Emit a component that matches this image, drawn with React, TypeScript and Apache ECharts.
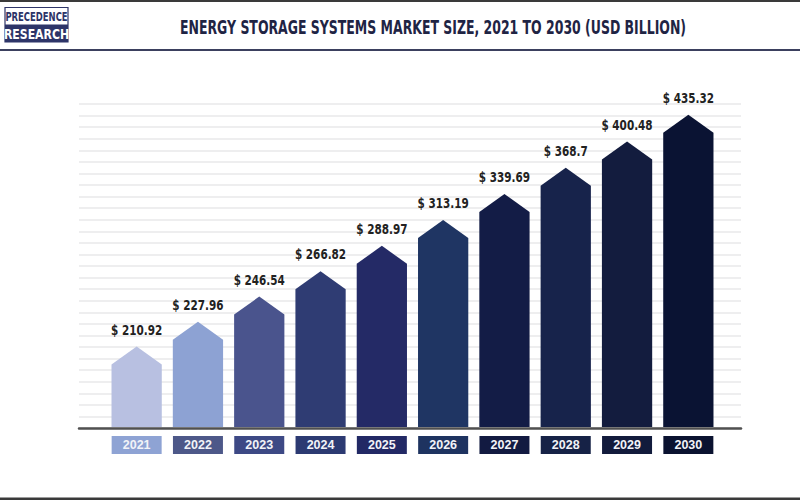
import React, { useEffect, useRef } from "react";
import * as echarts from "echarts";

const years = ["2021", "2022", "2023", "2024", "2025", "2026", "2027", "2028", "2029", "2030"];
const values = [210.92, 227.96, 246.54, 266.82, 288.97, 313.19, 339.69, 368.7, 400.48, 435.32];
const barColors = ["#b8c0e1", "#8da2d3", "#4a548d", "#2f3c73", "#242a66", "#1f3563", "#131c46", "#17234b", "#131c3e", "#0a1333"];
const yearBoxColors = ["#8ea3d4", "#4d5889", "#3d4985", "#2c3a72", "#222965", "#1e3360", "#121a41", "#162246", "#121b3c", "#0a1230"];
const gridLevels = 28;
const titleText = "ENERGY STORAGE SYSTEMS MARKET SIZE, 2021 TO 2030 (USD BILLION)";

const DJ = "'DejaVu Sans', sans-serif";
const LIB = "'Liberation Sans', Arial, sans-serif";

export default function App() {
  const ref = useRef<HTMLDivElement>(null);
  useEffect(() => {
    if (!ref.current) return;
    const chart = echarts.init(ref.current, null, { renderer: "svg" });
    const rich: Record<string, any> = {};
    yearBoxColors.forEach((c, i) => {
      rich["c" + i] = {
        backgroundColor: c,
        color: "#f2f3f8",
        width: 50,
        height: 18,
        lineHeight: 18,
        align: "center",
        fontSize: 12.5,
        fontWeight: "bold",
        fontFamily: LIB,
      };
    });
    chart.setOption({
      animation: false,
      backgroundColor: "#ffffff",
      grid: [
        { left: 79, right: 59, top: 104, bottom: 72 },
        { left: 106, right: 81, top: 95, bottom: 73 },
      ],
      xAxis: [
        {
          gridIndex: 0,
          type: "value",
          min: 0,
          max: 1,
          axisLine: { show: true, lineStyle: { color: "#505050", width: 2.5 } },
          axisTick: { show: false },
          axisLabel: { show: false },
          splitLine: { show: false },
        },
        {
          gridIndex: 1,
          type: "category",
          data: years,
          axisLine: { show: false },
          axisTick: { show: false },
          axisLabel: {
            interval: 0,
            margin: 9,
            formatter: (v: string, i: number) => `{c${i}|${v}}`,
            rich,
          },
        },
      ],
      yAxis: [
        {
          gridIndex: 0,
          type: "value",
          min: 0,
          max: gridLevels,
          interval: 1,
          axisLine: { show: false },
          axisTick: { show: false },
          axisLabel: { show: false },
          splitLine: { show: true, lineStyle: { color: "#e8e8ea", width: 1.5 } },
        },
        {
          gridIndex: 1,
          type: "log",
          min: 164,
          max: 463,
          show: false,
          splitLine: { show: false },
        },
      ],
      series: [
        {
          type: "custom",
          xAxisIndex: 1,
          yAxisIndex: 1,
          data: values.map((v, i) => [i, v]),
          renderItem: (params: any, api: any) => {
            const i = api.value(0);
            const v = api.value(1);
            const top = api.coord([i, v]);
            const cs = params.coordSys;
            const base = cs.y + cs.height;
            const w = api.size([1, 0])[0] * 0.82;
            const roof = 18;
            const x = top[0];
            const y = top[1];
            return {
              type: "group",
              children: [
                {
                  type: "polygon",
                  shape: {
                    points: [
                      [x - w / 2, base],
                      [x - w / 2, y + roof],
                      [x, y],
                      [x + w / 2, y + roof],
                      [x + w / 2, base],
                    ],
                  },
                  style: { fill: barColors[i] },
                },
                {
                  type: "text",
                  x: x,
                  y: y - 17,
                  scaleX: 0.72,
                  style: {
                    text: "$ " + v,
                    textAlign: "center",
                    textVerticalAlign: "middle",
                    fill: "#222222",
                    fontSize: 14.5,
                    fontWeight: "bold",
                    fontFamily: DJ,
                  },
                },
              ],
            };
          },
        },
      ],
      graphic: [
        { type: "rect", shape: { x: 0, y: 0, width: 800, height: 2 }, style: { fill: "#3a3a3a" } },
        { type: "rect", shape: { x: 0, y: 497.5, width: 800, height: 2.5 }, style: { fill: "#3a3a3a" } },
        { type: "rect", shape: { x: 0, y: 49, width: 800, height: 2 }, style: { fill: "#3b405e" } },
        {
          type: "rect",
          shape: { x: 5, y: 7.5, width: 63, height: 34.5 },
          style: { fill: "#ffffff", stroke: "#2d3468", lineWidth: 1.2 },
        },
        { type: "rect", shape: { x: 5, y: 24.5, width: 63, height: 17.5 }, style: { fill: "#2d3468" } },
        {
          type: "text",
          x: 36.5,
          y: 16.5,
          scaleX: 0.65,
          style: {
            text: "PRECEDENCE",
            textAlign: "center",
            textVerticalAlign: "middle",
            fill: "#2d3468",
            fontSize: 13,
            fontWeight: "bold",
            fontFamily: DJ,
          },
        },
        {
          type: "text",
          x: 36.5,
          y: 33.5,
          scaleX: 0.78,
          style: {
            text: "RESEARCH",
            textAlign: "center",
            textVerticalAlign: "middle",
            fill: "#ffffff",
            fontSize: 14,
            fontWeight: "bold",
            fontFamily: DJ,
          },
        },
        {
          type: "text",
          x: 433,
          y: 27.5,
          scaleX: 0.64,
          style: {
            text: titleText,
            textAlign: "center",
            textVerticalAlign: "middle",
            fill: "#1f2444",
            fontSize: 19.5,
            fontWeight: "bold",
            fontFamily: DJ,
          },
        },
      ],
    });
    return () => chart.dispose();
  }, []);
  return (
    <div
      ref={ref}
      style={{ position: "fixed", left: 0, top: 0, width: 800, height: 500, background: "#fff" }}
    />
  );
}
